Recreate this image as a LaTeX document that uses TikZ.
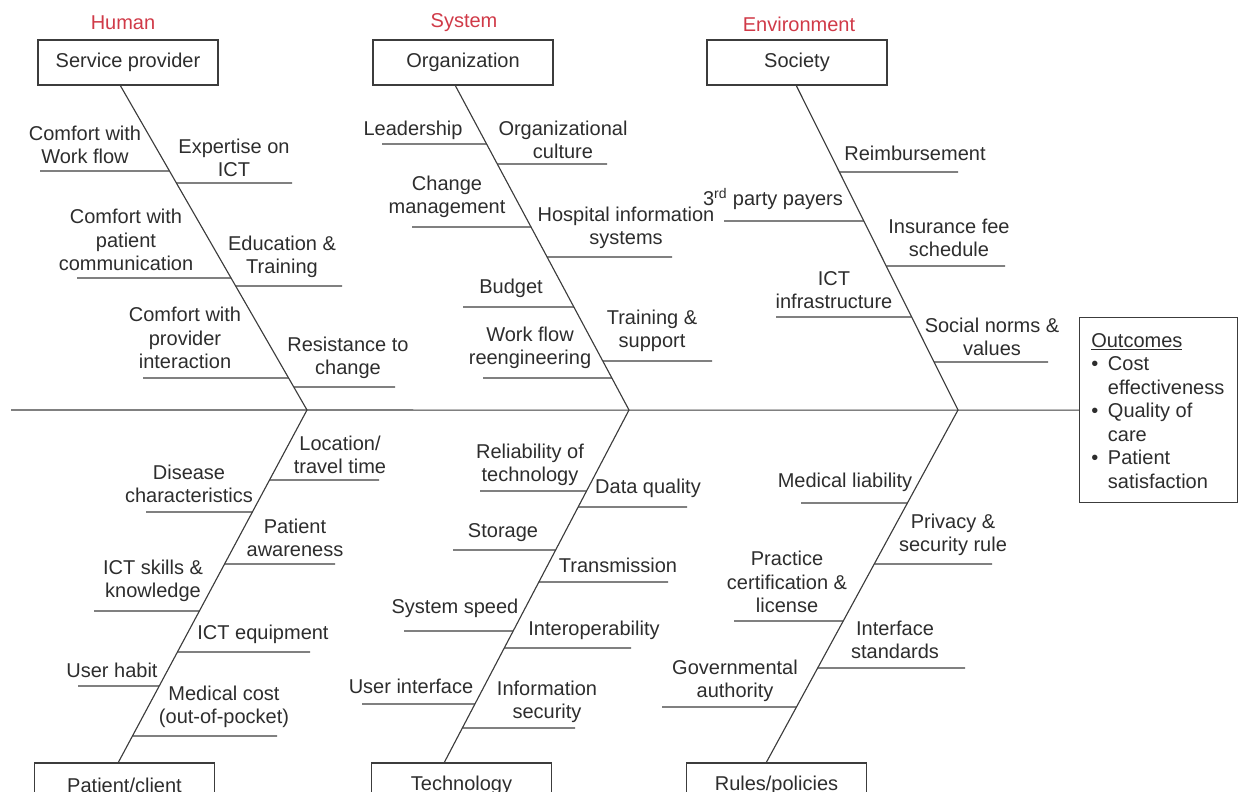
\documentclass[tikz,border=0pt]{standalone}
\usepackage{fontspec}
\setmainfont{Liberation Sans}
\definecolor{ln}{RGB}{60,60,60}
\definecolor{txt}{RGB}{45,45,45}
\definecolor{redlbl}{RGB}{208,58,72}
\newcommand\fbtwig[3]{\draw[bone] (#3,#2) -- (intersection of #1 and 0,#2--10,#2);}
\begin{document}
\begin{tikzpicture}[x=0.75pt,y=-0.75pt,
  every node/.style={font=\fontsize{15}{17.5}\selectfont, text=txt, inner sep=0pt},
  bone/.style={draw=ln, line width=0.85pt},
  catbox/.style={draw=ln, line width=1pt, minimum width=135pt, minimum height=33.75pt},
  lbl/.style={align=center},
  cat/.style={text=redlbl}]
\useasboundingbox (0,0) rectangle (1242,792);
\clip (0,0) rectangle (1242,792);
% category boxes
\node[catbox] (sp) at (128,62.5) {Service provider};
\node[catbox] (org) at (463,62.5) {Organization};
\node[catbox] (soc) at (797,62.5) {Society};
\node[catbox] (pc) at (124.5,785.5) {Patient/client};
\node[catbox] (tech) at (461.5,785.5) {Technology};
\node[catbox] (rp) at (776.5,785.5) {Rules/policies};
\node[cat] (hum) at (123,23) {Human};
\node[cat] (sys) at (464,23) {System};
\node[cat] (env) at (799,24) {Environment};
% outcomes
\node[draw=ln, line width=1pt, anchor=north west, minimum width=118.5pt, minimum height=138.75pt] (out) at (1079,317) {};
\node[anchor=north west, align=left, font=\fontsize{15}{17.6}\selectfont] (outtxt) at (1091,333)
 {\underline{Outcomes}\\\makebox[12.5pt][l]{•}Cost\\\hspace*{12.5pt}effectiveness\\\makebox[12.5pt][l]{•}Quality of\\\hspace*{12.5pt}care\\\makebox[12.5pt][l]{•}Patient\\\hspace*{12.5pt}satisfaction};
% spine and junctions
\coordinate (tail) at (11,410);
\coordinate (j1) at (307,410);
\coordinate (j2) at (629,410);
\coordinate (j3) at (958,410);
\coordinate (h0) at (120,85);
\coordinate (p0) at (118,763);
\coordinate (s0) at (455,85);
\coordinate (t0) at (444,763);
\coordinate (e0) at (796,85);
\coordinate (r0) at (766,763);
\draw[bone] (tail) -- (out.west);
\draw[bone] (h0) -- (j1) -- (p0);
\draw[bone] (s0) -- (j2) -- (t0);
\draw[bone] (e0) -- (j3) -- (r0);
% Human top
\fbtwig{h0--j1}{171}{40}
\fbtwig{h0--j1}{183}{292}
\fbtwig{h0--j1}{278}{77}
\fbtwig{h0--j1}{286}{342}
\fbtwig{h0--j1}{378}{143}
\fbtwig{h0--j1}{387}{395}
\node[lbl] (a1) at (85,145) {Comfort with\\Work flow};
\node[lbl] (a2) at (234,158) {Expertise on\\ICT};
\node[lbl] (a3) at (126,240) {Comfort with\\patient\\communication};
\node[lbl] (a4) at (282,257) {Education \&\\Training};
\node[lbl] (a5) at (185,338) {Comfort with\\provider\\interaction};
\node[lbl] (a6) at (348,358) {Resistance to\\change};
% Human bottom
\fbtwig{j1--p0}{480}{379}
\fbtwig{j1--p0}{512}{146}
\fbtwig{j1--p0}{564}{335}
\fbtwig{j1--p0}{611}{94}
\fbtwig{j1--p0}{652}{310}
\fbtwig{j1--p0}{686}{78}
\fbtwig{j1--p0}{736}{277}
\node[lbl] (b1) at (340,455) {Location/\\travel time};
\node[lbl] (b2) at (189,484) {Disease\\characteristics};
\node[lbl] (b3) at (295,538) {Patient\\awareness};
\node[lbl] (b4) at (153,581) {ICT skills \&\\knowledge};
\node[lbl] (b5) at (263,634) {ICT equipment};
\node[lbl] (b6) at (112,670) {User habit};
\node[lbl] (b7) at (224,707) {Medical cost\\(out-of-pocket)};
% System top
\fbtwig{s0--j2}{144}{382}
\fbtwig{s0--j2}{164}{607}
\fbtwig{s0--j2}{227}{412}
\fbtwig{s0--j2}{257}{672}
\fbtwig{s0--j2}{307}{463}
\fbtwig{s0--j2}{361}{712}
\fbtwig{s0--j2}{378}{483}
\node[lbl] (c1) at (413,130) {Leadership};
\node[lbl] (c2) at (563,140) {Organizational\\culture};
\node[lbl] (c3) at (447,197) {Change\\management};
\node[lbl] (c4) at (626,228) {Hospital information\\systems};
\node[lbl] (c5) at (511,288) {Budget};
\node[lbl] (c6) at (652,331) {Training \&\\support};
\node[lbl] (c7) at (530,348) {Work flow\\reengineering};
% System bottom
\fbtwig{j2--t0}{491}{480}
\fbtwig{j2--t0}{507}{687}
\fbtwig{j2--t0}{550}{453}
\fbtwig{j2--t0}{582}{668}
\fbtwig{j2--t0}{631}{404}
\fbtwig{j2--t0}{648}{631}
\fbtwig{j2--t0}{704}{362}
\fbtwig{j2--t0}{728}{575}
\node[lbl] (d1) at (530,465) {Reliability of\\technology};
\node[lbl] (d2) at (648,488) {Data quality};
\node[lbl] (d3) at (503,533) {Storage};
\node[lbl] (d4) at (618,565) {Transmission};
\node[lbl] (d5) at (455,608) {System speed};
\node[lbl] (d6) at (594,630) {Interoperability};
\node[lbl] (d7) at (411,686) {User interface};
\node[lbl] (d8) at (547,702) {Information\\security};
% Environment top
\fbtwig{e0--j3}{172}{958}
\fbtwig{e0--j3}{221}{724}
\fbtwig{e0--j3}{266}{1005}
\fbtwig{e0--j3}{317}{776}
\fbtwig{e0--j3}{362}{1048}
\node[lbl] (f1) at (915,153) {Reimbursement};
\node[lbl] (f2) at (773,199) {3\textsuperscript{rd} party payers};
\node[lbl] (f3) at (949,238) {Insurance fee\\schedule};
\node[lbl] (f4) at (834,290) {ICT\\infrastructure};
\node[lbl] (f5) at (992,337) {Social norms \&\\values};
% Environment bottom
\fbtwig{j3--r0}{503}{801}
\fbtwig{j3--r0}{564}{992}
\fbtwig{j3--r0}{621}{734}
\fbtwig{j3--r0}{668}{965}
\fbtwig{j3--r0}{707}{662}
\node[lbl] (g1) at (845,482) {Medical liability};
\node[lbl] (g2) at (953,535) {Privacy \&\\security rule};
\node[lbl] (g3) at (787,582) {Practice\\certification \&\\license};
\node[lbl] (g4) at (895,640) {Interface\\standards};
\node[lbl] (g5) at (735,681) {Governmental\\authority};
\end{tikzpicture}
\end{document}
